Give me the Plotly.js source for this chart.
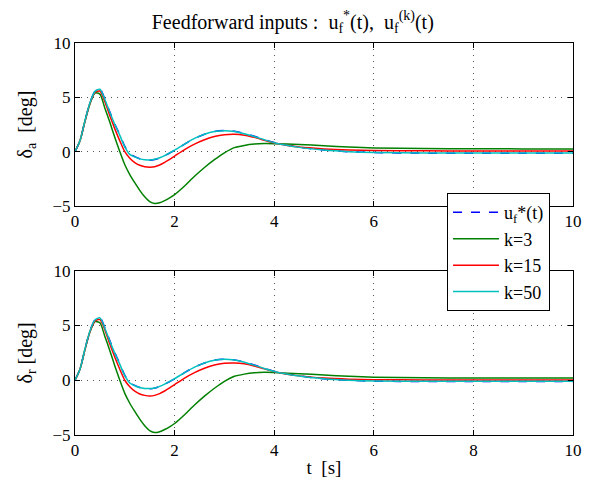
<!DOCTYPE html>
<html>
<head>
<meta charset="utf-8">
<script src="https://cdn.plot.ly/plotly-3.0.1.min.js"></script>
<style>html,body{margin:0;padding:0;background:#fff;}#chart{width:607px;height:478px;}</style>
</head>
<body>
<div id="chart"></div>
<script>
// time samples [s]
const t = [0,0.1,0.2,0.3,0.4,0.5,0.6,0.7,0.8,0.9,1.0,1.1,1.2,1.3,1.4,1.5,1.6,1.7,1.8,1.9,2.0,2.2,2.4,2.6,2.8,3.0,3.2,3.4,3.6,3.8,4.0,4.5,5.0,5.5,6.0,7.0,8.0,9.0,10.0];

// aileron delta_a [deg]
const aUf  = [0,1.0,2.85,4.5,5.55,5.78,4.85,3.65,2.55,1.55,0.5,-0.2,-0.45,-0.65,-0.76,-0.78,-0.72,-0.58,-0.38,-0.12,0.12,0.7,1.22,1.6,1.86,1.95,1.88,1.68,1.42,1.12,0.84,0.42,0.16,0.0,-0.08,-0.13,-0.13,-0.13,-0.13];
const aK3  = [0,1.0,2.8,4.4,5.4,5.3,4.0,2.7,1.3,0.0,-1.2,-2.1,-2.85,-3.55,-4.15,-4.6,-4.77,-4.7,-4.5,-4.25,-3.95,-3.15,-2.26,-1.45,-0.73,-0.1,0.38,0.58,0.7,0.75,0.74,0.66,0.55,0.43,0.35,0.29,0.27,0.26,0.26];
const aK15 = [0,1.0,2.8,4.45,5.45,5.58,4.6,3.3,2.1,1.0,0.0,-0.6,-1.0,-1.25,-1.38,-1.42,-1.38,-1.22,-0.98,-0.7,-0.4,0.2,0.7,1.1,1.4,1.56,1.6,1.52,1.32,1.06,0.8,0.43,0.26,0.16,0.11,0.08,0.07,0.07,0.07];
const aK50 = [0,1.0,2.85,4.5,5.55,5.75,4.8,3.6,2.5,1.5,0.45,-0.25,-0.48,-0.66,-0.75,-0.76,-0.7,-0.56,-0.36,-0.1,0.14,0.7,1.22,1.6,1.85,1.93,1.86,1.66,1.4,1.1,0.82,0.4,0.15,0.0,-0.08,-0.12,-0.12,-0.12,-0.12];

// rudder delta_r [deg]
const rUf  = [0,1.0,2.85,4.5,5.5,5.72,4.8,3.6,2.5,1.5,0.45,-0.22,-0.47,-0.66,-0.77,-0.78,-0.72,-0.58,-0.38,-0.12,0.12,0.7,1.2,1.58,1.84,1.93,1.86,1.66,1.4,1.1,0.82,0.4,0.14,0.0,-0.08,-0.12,-0.12,-0.12,-0.12];
const rK3  = [0,1.0,2.8,4.4,5.35,5.25,4.0,2.7,1.3,0.0,-1.2,-2.1,-2.85,-3.55,-4.15,-4.6,-4.78,-4.7,-4.5,-4.25,-3.95,-3.15,-2.26,-1.45,-0.73,-0.1,0.36,0.56,0.68,0.72,0.7,0.6,0.48,0.36,0.28,0.22,0.2,0.2,0.2];
const rK15 = [0,1.0,2.8,4.45,5.4,5.55,4.6,3.3,2.1,1.0,0.0,-0.6,-1.0,-1.25,-1.38,-1.43,-1.38,-1.22,-0.98,-0.7,-0.4,0.2,0.7,1.1,1.4,1.55,1.58,1.5,1.3,1.04,0.78,0.4,0.2,0.1,0.05,0.03,0.03,0.03,0.03];
const rK50 = [0,1.0,2.85,4.5,5.5,5.7,4.75,3.55,2.45,1.45,0.42,-0.25,-0.5,-0.67,-0.75,-0.76,-0.7,-0.56,-0.36,-0.1,0.14,0.7,1.2,1.58,1.83,1.92,1.85,1.65,1.38,1.08,0.8,0.38,0.13,-0.01,-0.08,-0.1,-0.1,-0.1,-0.1];

const xTicks = [0,2,4,6,8,10];
const yTicks = [-5,0,5,10];
const names = ['u<sub>f</sub>*(t)','k=3','k=15','k=50'];
const colors = ['#0000ff','#008000','#ff0000','#00bfbf'];
const dashes = ['dash','solid','solid','solid'];

const traces = [];
const topSets = [aUf,aK3,aK15,aK50];
const botSets = [rUf,rK3,rK15,rK50];
topSets.forEach((ys,i)=>traces.push({x:t,y:ys,type:'scatter',mode:'lines',name:names[i],
  line:{color:colors[i],width:1.5,dash:dashes[i],shape:'spline',smoothing:0.7},xaxis:'x',yaxis:'y',showlegend:true,legendgroup:'g'+i}));
botSets.forEach((ys,i)=>traces.push({x:t,y:ys,type:'scatter',mode:'lines',name:names[i],
  line:{color:colors[i],width:1.5,dash:dashes[i],shape:'spline',smoothing:0.7},xaxis:'x2',yaxis:'y2',showlegend:false,legendgroup:'g'+i}));

const FAM = 'Liberation Serif';
const font = {family:FAM, size:17, color:'#000'};
function xa(anchor){return {range:[0,10],tickvals:xTicks,ticktext:xTicks.map(String),anchor:anchor,
  showline:true,linecolor:'#000',linewidth:1,mirror:'ticks',ticks:'inside',ticklen:5,tickcolor:'#000',
  showgrid:true,gridcolor:'#555',griddash:'1px,5px',gridwidth:1,zeroline:false,
  tickfont:{family:FAM,size:17,color:'#000'},automargin:false};}
function ya(anchor,domain,title){return {range:[-5,10],tickvals:yTicks,ticktext:yTicks.map(v=>v<0?'\u2212'+Math.abs(v):String(v)),anchor:anchor,domain:domain,
  showline:true,linecolor:'#000',linewidth:1,mirror:'ticks',ticks:'inside',ticklen:5,tickcolor:'#000',
  showgrid:true,gridcolor:'#555',griddash:'1px,5px',gridwidth:1,zeroline:false,
  tickfont:{family:FAM,size:17,color:'#000'},automargin:false,
  title:{text:title,font:{family:FAM,size:20,color:'#000'},standoff:14}};}

const xaxis2 = xa('y2'); xaxis2.title = {text:'t  [s]',font:{family:FAM,size:19,color:'#000'},standoff:2};
const layout = {
  width:607,height:478,
  margin:{l:75,r:34,t:43,b:43},
  paper_bgcolor:'#fff',plot_bgcolor:'#fff',
  font:font,
  title:{text:'Feedforward inputs :  u<sub>f</sub><sup>*</sup>(t),  u<sub>f</sub><sup>(k)</sup>(t)',
    font:{family:FAM,size:20,color:'#000'},x:0.25,xanchor:'left',y:0.955,yanchor:'middle'},
  xaxis:xa('y'),
  yaxis:ya('x',[0.584,1],'\u03b4<sub>a</sub>  [deg]'),
  xaxis2:xaxis2,
  yaxis2:ya('x2',[0,0.419],'\u03b4<sub>r</sub> [deg]'),
  legend:{x:0.747,y:0.617,xanchor:'left',yanchor:'top',bgcolor:'#fff',bordercolor:'#000',borderwidth:1,
    font:{family:FAM,size:18,color:'#000'},tracegroupgap:0,itemwidth:46},
  showlegend:true
};
Plotly.newPlot('chart',traces,layout,{displayModeBar:false,staticPlot:true});
</script>
</body>
</html>
